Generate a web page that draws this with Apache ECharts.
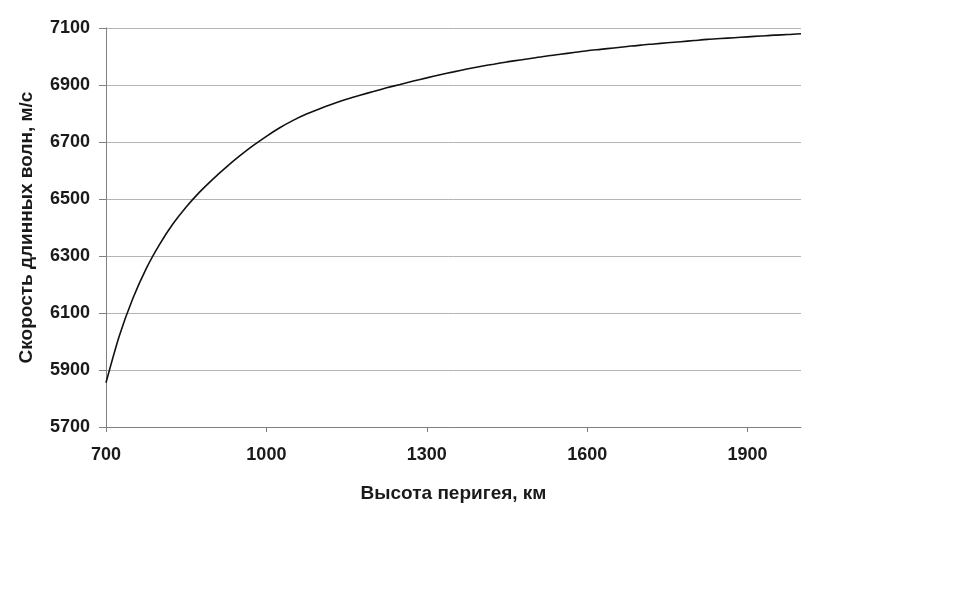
<!DOCTYPE html>
<html>
<head>
<meta charset="utf-8">
<script src="https://cdn.jsdelivr.net/npm/echarts@6/dist/echarts.min.js"></script>
<style>
  html, body { margin: 0; padding: 0; background: #fff; }
  #chart { width: 974px; height: 594px; }
</style>
</head>
<body>
<div id="chart"></div>
<script>
// высота перигея, км (шаг 25 км)
const heights = [700, 725, 750, 775, 800, 825, 850, 875, 900, 925, 950, 975,
  1000, 1025, 1050, 1075, 1100, 1125, 1150, 1175, 1200, 1225, 1250, 1275,
  1300, 1325, 1350, 1375, 1400, 1425, 1450, 1475, 1500, 1525, 1550, 1575,
  1600, 1625, 1650, 1675, 1700, 1725, 1750, 1775, 1800, 1825, 1850, 1875,
  1900, 1925, 1950, 1975, 2000]
// скорость длинных волн, м/с
const speeds = [5855, 6020, 6150, 6255, 6340, 6412, 6472, 6524, 6570, 6612, 6651, 6687,
  6720, 6750, 6776, 6798, 6817, 6834, 6850, 6864, 6877, 6890, 6902, 6914,
  6925, 6936, 6946, 6956, 6965, 6973, 6981, 6988, 6995, 7002, 7008, 7014,
  7020, 7025, 7030, 7035, 7040, 7044, 7048, 7052, 7056, 7060, 7063, 7066,
  7069, 7072, 7075, 7077, 7080]

const font = '"Liberation Sans", Arial, sans-serif'
const chart = echarts.init(document.getElementById('chart'))

chart.setOption({
  animation: false,
  grid: {
    left: 106,
    right: 173,
    top: 28,
    bottom: 167
  },
  xAxis: {
    type: 'value',
    min: 700,
    max: 2000,
    interval: 300,
    name: 'Высота перигея, км',
    nameLocation: 'middle',
    nameGap: 57,
    nameTextStyle: { fontFamily: font, fontWeight: 'bold', fontSize: 19, color: '#1a1a1a' },
    axisLine: { lineStyle: { color: '#808080', width: 1 } },
    axisTick: { show: true, length: 5, lineStyle: { color: '#808080' } },
    axisLabel: {
      margin: 19,
      fontFamily: font, fontWeight: 'bold', fontSize: 18, color: '#1a1a1a',
      formatter: v => String(v),
      showMaxLabel: false
    },
    splitLine: { show: false }
  },
  yAxis: {
    type: 'value',
    min: 5700,
    max: 7100,
    interval: 200,
    name: 'Скорость длинных волн, м/с',
    nameLocation: 'middle',
    nameGap: 70,
    nameTextStyle: { fontFamily: font, fontWeight: 'bold', fontSize: 19, color: '#1a1a1a' },
    axisLine: { show: true, lineStyle: { color: '#808080', width: 1 } },
    axisTick: { show: true, length: 7, lineStyle: { color: '#808080' } },
    axisLabel: {
      margin: 16,
      fontFamily: font, fontWeight: 'bold', fontSize: 18, color: '#1a1a1a',
      formatter: v => String(v)
    },
    splitLine: { show: true, lineStyle: { color: '#b4b4b4', width: 1 } }
  },
  series: [{
    type: 'line',
    data: heights.map((h, i) => [h, speeds[i]]),
    smooth: 0.3,
    showSymbol: false,
    lineStyle: { color: '#111', width: 1.6 }
  }]
})
</script>
</body>
</html>
